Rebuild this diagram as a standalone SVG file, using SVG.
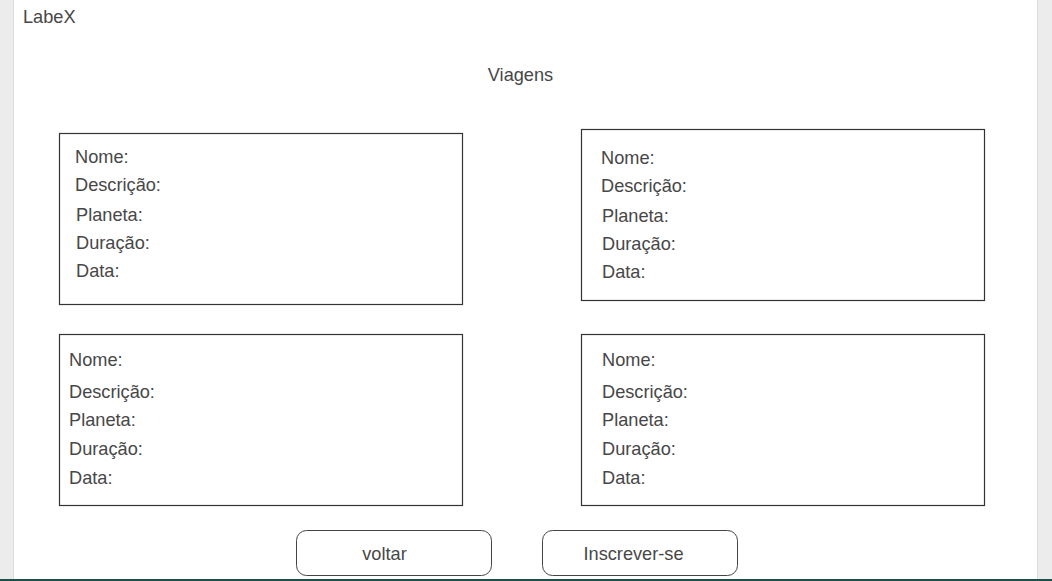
<svg xmlns="http://www.w3.org/2000/svg" width="1052" height="581" viewBox="0 0 1052 581">
<style>
text{font-family:"Liberation Sans",Arial,sans-serif;font-size:18.2px;fill:#474747}
.box{fill:#fff;stroke:#333;stroke-width:1.2}
.btn{fill:#fff;stroke:#444;stroke-width:1}
.c{text-anchor:middle}
</style>
<rect x="0" y="0" width="1052" height="581" fill="#ececec"/>
<rect x="13" y="0" width="1" height="581" fill="#dcdcdc"/>
<rect x="1037" y="0" width="1" height="581" fill="#dcdcdc"/>
<rect x="14" y="0" width="1023" height="581" fill="#fff"/>
<rect x="0" y="579" width="1052" height="2" fill="#1e4d4a"/>
<g id="header">
<text x="23" y="23">LabeX</text>
<text x="520.5" y="81" class="c">Viagens</text>
</g>
<g id="trip1">
<rect class="box" x="59.5" y="133.5" width="403" height="171"/>
<text x="75" y="163">Nome:</text>
<text x="75" y="191">Descrição:</text>
<text x="76" y="221">Planeta:</text>
<text x="76" y="249">Duração:</text>
<text x="76" y="277">Data:</text>
</g>
<g id="trip2">
<rect class="box" x="581.5" y="129.5" width="403" height="171"/>
<text x="601" y="164">Nome:</text>
<text x="601" y="192">Descrição:</text>
<text x="602" y="222">Planeta:</text>
<text x="602" y="250">Duração:</text>
<text x="602" y="278">Data:</text>
</g>
<g id="trip3">
<rect class="box" x="59.5" y="334.5" width="403" height="171"/>
<text x="69" y="366">Nome:</text>
<text x="69" y="398">Descrição:</text>
<text x="69" y="426">Planeta:</text>
<text x="69" y="455">Duração:</text>
<text x="69" y="484">Data:</text>
</g>
<g id="trip4">
<rect class="box" x="581.5" y="334.5" width="403" height="171"/>
<text x="602" y="366">Nome:</text>
<text x="602" y="398">Descrição:</text>
<text x="602" y="426">Planeta:</text>
<text x="602" y="455">Duração:</text>
<text x="602" y="484">Data:</text>
</g>
<g id="btn-voltar">
<rect class="btn" x="296.5" y="530.5" width="195" height="45" rx="10"/>
<text x="384.5" y="560" class="c">voltar</text>
</g>
<g id="btn-inscrever">
<rect class="btn" x="542.5" y="530.5" width="195" height="45" rx="10"/>
<text x="633.5" y="560" class="c">Inscrever-se</text>
</g>
<g id="connectors"/>
</svg>
